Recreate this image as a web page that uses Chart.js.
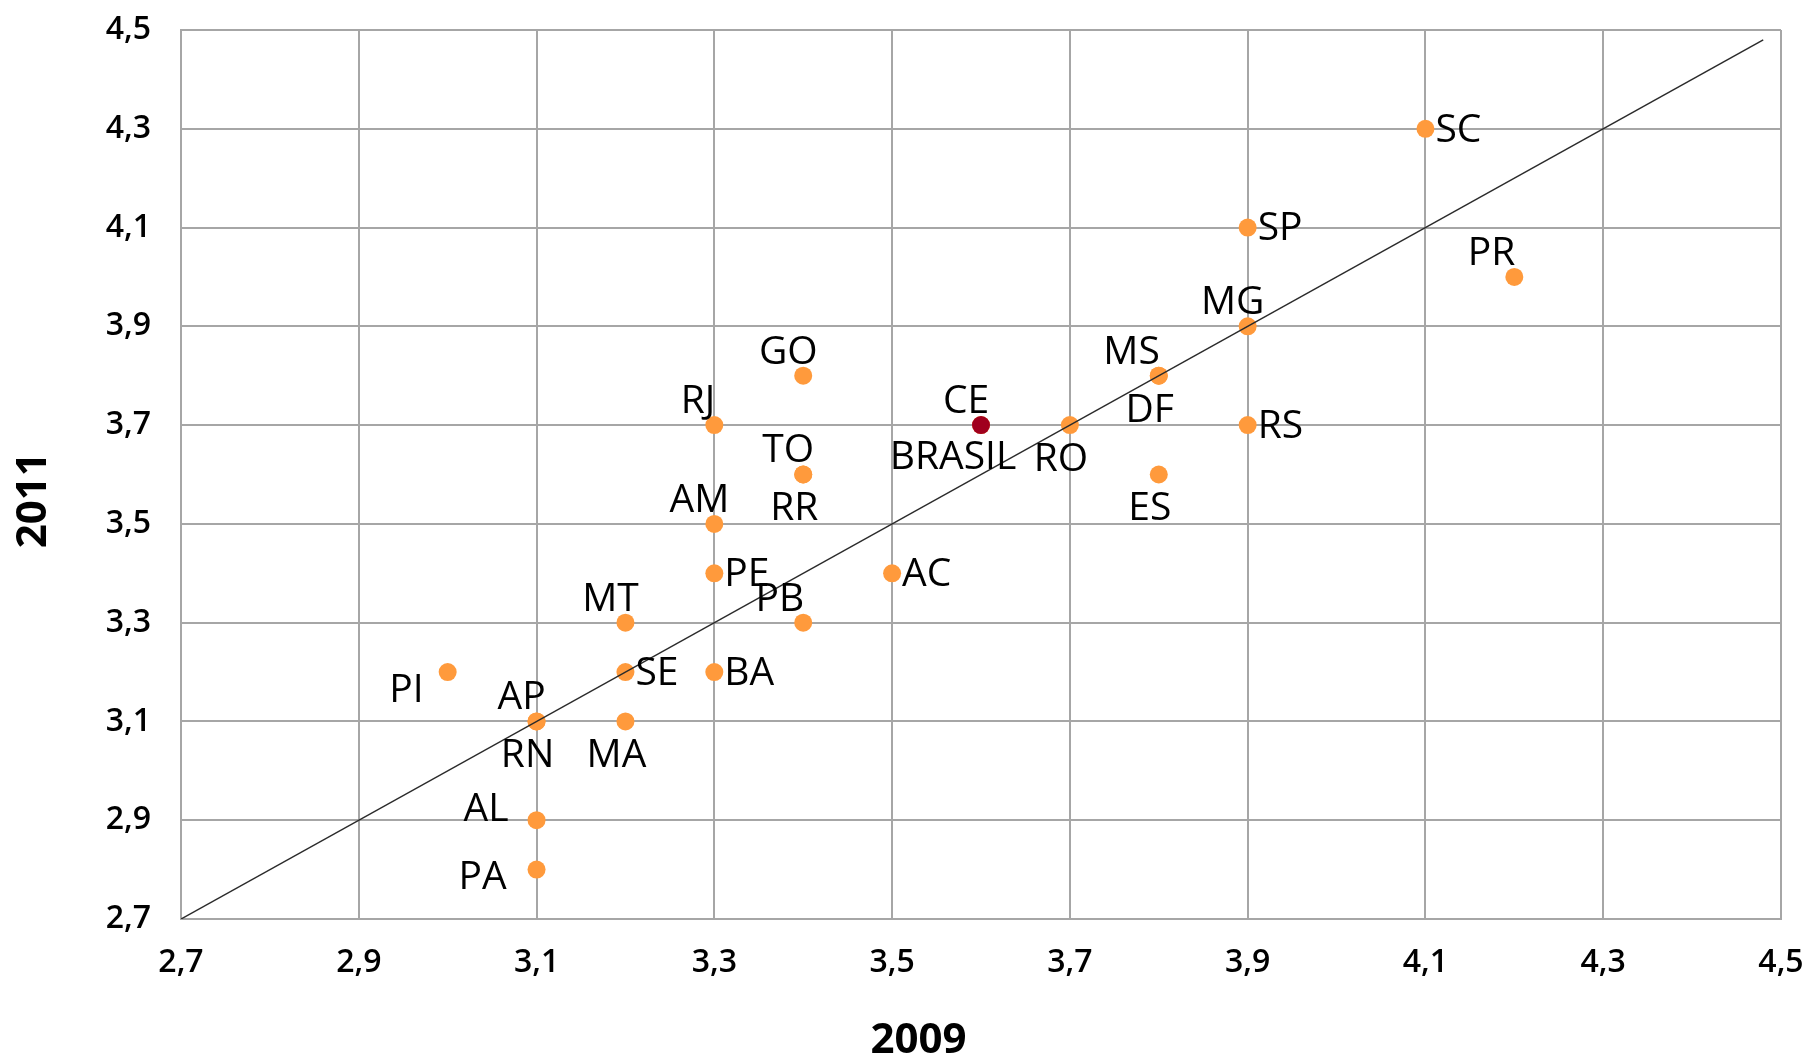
<!DOCTYPE html>
<html>
<head>
<meta charset="utf-8">
<title>IDEB 2009 x 2011</title>
<script src="https://cdn.jsdelivr.net/npm/chart.js@4.4.1/dist/chart.umd.min.js"></script>
<style>
  body { margin: 0; background: #fff; }
  canvas { display: block; }
</style>
</head>
<body>
<canvas id="ideb" width="1810" height="1060"></canvas>
<script>
// states, 2009 value (x) and 2011 value (y)
const states = ['SC','SP','PR','MG','MS','DF','RS','ES','RO','CE','GO','RJ','TO','RR','AM','PE','AC','PB','MT','SE','BA','PI','AP','RN','MA','AL','PA'];
const ideb2009 = [4.1,3.9,4.2,3.9,3.8,3.8,3.9,3.8,3.7,3.6,3.4,3.3,3.4,3.4,3.3,3.3,3.5,3.4,3.2,3.2,3.3,3.0,3.1,3.1,3.2,3.1,3.1];
const ideb2011 = [4.3,4.1,4.0,3.9,3.8,3.8,3.7,3.6,3.7,3.7,3.8,3.7,3.6,3.6,3.5,3.4,3.4,3.3,3.3,3.2,3.2,3.2,3.1,3.1,3.1,2.9,2.8];
// where each label sits around its dot
const labelPos = ['r','r','al','a','al','b','r','b','b','a','a','al','a','b','a','r','r','al','a','r','r','lb','a','b','b','la','l'];

const brasilName = ['BRASIL'];
const brasil2009 = [3.6];
const brasil2011 = [3.7];
const brasilPos = ['bl'];

// reference line y = x
const refLine = [2.7, 4.48];

const tickValues = [2.7, 2.9, 3.1, 3.3, 3.5, 3.7, 3.9, 4.1, 4.3, 4.5];

const FONT = "'Open Sans', 'DejaVu Sans', sans-serif";
const gridColor = '#A6A6A6';

const place = {
  r:  { dx: 10,  dy: -1,  align: 'left' },
  a:  { dx: -15, dy: -26, align: 'center' },
  b:  { dx: -9,  dy: 32,  align: 'center' },
  bl: { dx: -28, dy: 30,  align: 'center' },
  al: { dx: 1,   dy: -26, align: 'right' },
  l:  { dx: -30, dy: 5,   align: 'right' },
  la: { dx: -28, dy: -13, align: 'right' },
  lb: { dx: -24, dy: 16,  align: 'right' }
};

const pointLabels = {
  id: 'pointLabels',
  afterDatasetsDraw(chart) {
    const ctx = chart.ctx;
    const size = 39;
    ctx.save();
    ctx.font = `${size}px ${FONT}`;
    ctx.fillStyle = '#000';
    ctx.textBaseline = 'alphabetic';
    chart.data.datasets.forEach((ds, i) => {
      if (!ds.names) return;
      const meta = chart.getDatasetMeta(i);
      meta.data.forEach((pt, j) => {
        const p = place[ds.positions[j]];
        ctx.textAlign = p.align;
        ctx.fillText(ds.names[j], pt.x + p.dx, pt.y + p.dy + size * 0.357);
      });
    });
    ctx.restore();
  }
};

// axis titles sit a bit off centre in the original, so draw them by hand
const axisTitles = {
  id: 'axisTitles',
  afterDraw(chart) {
    const ctx = chart.ctx;
    const area = chart.chartArea;
    ctx.save();
    ctx.font = `bold 42px ${FONT}`;
    ctx.fillStyle = '#000';
    ctx.textAlign = 'center';
    ctx.textBaseline = 'middle';
    ctx.fillText('2009', area.left + area.width * 0.461, 1041);
    ctx.translate(34, area.top + area.height * 0.529);
    ctx.rotate(-Math.PI / 2);
    ctx.fillText('2011', 0, 0);
    ctx.restore();
  }
};

const fmt = v => Number(v).toFixed(1).replace('.', ',');
const setTicks = scale => { scale.ticks = tickValues.map(v => ({ value: v })); };

new Chart(document.getElementById('ideb'), {
  type: 'scatter',
  data: {
    datasets: [
      {
        type: 'line',
        label: 'y = x',
        data: refLine.map(v => ({ x: v, y: v })),
        borderColor: '#2b2b2b',
        borderWidth: 1.5,
        pointRadius: 0,
        fill: false,
        order: 0
      },
      {
        label: 'BRASIL',
        data: brasil2009.map((v, i) => ({ x: v, y: brasil2011[i] })),
        names: brasilName,
        positions: brasilPos,
        backgroundColor: '#A0001E',
        borderWidth: 0,
        pointRadius: 9,
        order: 1
      },
      {
        label: 'UF',
        data: ideb2009.map((v, i) => ({ x: v, y: ideb2011[i] })),
        names: states,
        positions: labelPos,
        backgroundColor: '#FF9A3C',
        borderWidth: 0,
        pointRadius: 9,
        order: 2
      }
    ]
  },
  options: {
    responsive: false,
    animation: false,
    devicePixelRatio: 1,
    layout: { padding: { top: 30, right: 29, left: 0, bottom: 0 } },
    plugins: {
      legend: { display: false },
      tooltip: { enabled: false }
    },
    scales: {
      x: {
        type: 'linear',
        min: 2.7,
        max: 4.5,
        afterBuildTicks: setTicks,
        // fixed box, no extra room for the end labels
        afterFit: scale => { scale.height = 141; scale.paddingLeft = 0; scale.paddingRight = 0; },
        grid: { color: gridColor, lineWidth: 2, drawTicks: false },
        border: { color: gridColor, width: 2 },
        ticks: {
          padding: 25,
          color: '#000',
          font: { family: FONT, size: 32, weight: '600' },
          maxRotation: 0,
          callback: fmt
        }
      },
      y: {
        type: 'linear',
        min: 2.7,
        max: 4.5,
        afterBuildTicks: setTicks,
        afterFit: scale => { scale.width = 181; scale.paddingTop = 0; scale.paddingBottom = 0; },
        grid: { color: gridColor, lineWidth: 2, drawTicks: false },
        border: { color: gridColor, width: 2 },
        ticks: {
          padding: 30,
          color: '#000',
          font: { family: FONT, size: 32, weight: '600' },
          callback: fmt
        }
      }
    }
  },
  plugins: [pointLabels, axisTitles]
});
</script>
</body>
</html>
